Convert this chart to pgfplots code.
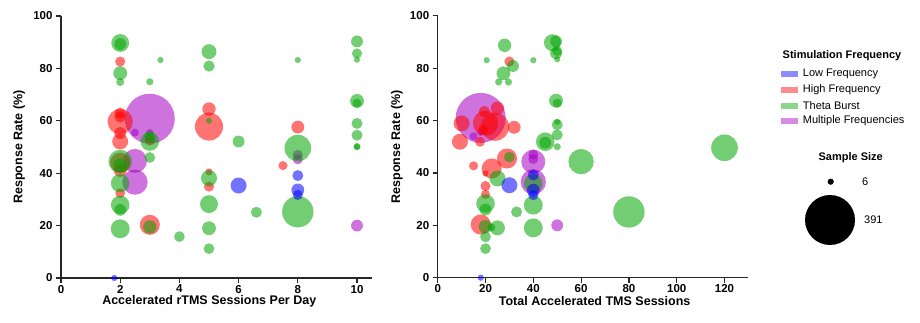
\documentclass[border=0pt]{standalone}
\usepackage{fontspec}
\setmainfont{Liberation Sans}
\usepackage{pgfplots}
\usepackage{pgfplotstable}
\pgfplotsset{compat=1.18}

\definecolor{cLow}{RGB}{0,0,255}
\definecolor{cHigh}{RGB}{255,0,0}
\definecolor{cTheta}{RGB}{0,165,0}
\definecolor{cMulti}{RGB}{165,0,195}

% ---------- Left panel: sessions per day ----------
\pgfplotstableread{
x y n
1.8 0 6
6 35.3 40
8 39.1 19
8 33.6 26
8 31.7 16
}\LLow
\pgfplotstableread{
x y n
2 82.6 16
2 62.9 20
2 61.5 20
2 59.7 100
2 55.3 22
2 52.1 40
2 44 63
2 41 25
2 32.4 15
3 52.5 16
3 20.3 63
5 64.5 28
5 57.8 123
5 40.5 8
5 34.9 16
7.5 42.9 13
8 57.6 26
}\LHigh
\pgfplotstableread{
x y n
2 89.7 50
2 89.3 22
2 78.2 30
2 74.8 10
3.36 83.2 6
3 74.9 8
5 86.4 35
5 80.9 20
3 52.1 54
3 54 20
3 46 18
2 44.5 86
2 43 30
2 36.2 54
2 27.9 54
2 26 22
2 18.8 56
3 19.5 28
4 15.8 18
5 60 6
5 38.1 40
5 28.2 50
5 19 30
5 11.2 18
6 52.1 22
6.6 25.1 19
8 83.2 6
8 49.6 111
8 25.3 154
10 90.3 22
10 85.7 16
10 83.3 6
10 67.6 30
10 66.7 13
10 59 19
10 54.5 19
10 50.2 8
10 50 6
}\LTheta
\pgfplotstableread{
x y n
3 60.8 391
2.5 55.5 10
3 55.5 8
2.5 44.7 90
2.5 36.6 100
8 47 16
8 45.3 16
10 20 22
}\LMulti

% ---------- Right panel: total sessions ----------
\pgfplotstableread{
x y n
18 0 6
30 35.3 40
40 39.2 19
40 33.4 26
40 31.5 16
}\RLow
\pgfplotstableread{
x y n
30 82.5 16
25 64.7 28
19.5 63.4 20
20 59 100
24 57.6 123
10 58.9 40
32 57.4 26
9.3 51.9 40
17.7 51.9 16
19 56.5 16
15 42.7 13
29 45.5 63
22.6 41.7 63
20 39.8 6
20 35 16
20 31.8 13
18 20.3 63
}\RHigh
\pgfplotstableread{
x y n
48 89.7 45
49.5 90.2 22
28 88.7 28
20.5 83 6
40 83 6
31.5 80.8 22
27.5 78 30
25.5 74.7 8
29.6 74.7 8
49.5 85.7 22
50 86.5 16
50 83.4 6
49.5 67.6 30
50 66.6 13
50 59.5 6
50 58.4 19
50 54.5 19
45 51.9 54
45 51.5 22
50 50 8
30 46 18
60 44.3 100
25 37.9 40
40 36 54
20 28.3 54
40 27.7 56
20 26 22
33 25.1 19
20 19.5 28
25 19 35
22.5 19.2 10
40 19 56
20 15.6 18
20 11.1 18
80 25.1 154
120 49.6 111
}\RTheta
\pgfplotstableread{
x y n
18 61 391
15 54 10
18 55.5 8
40 44.3 90
40 47 16
40 45.3 16
40 36.6 100
50 20 22
}\RMulti

% ---------- Size legend ----------
\pgfplotstableread{
x y n
50.7 80.3 6
50 42 391
}\SizeLeg

\pgfplotsset{
  bubble/.style={
    scatter, only marks, mark=*,
    draw opacity=0,
    mark options={draw opacity=0},
    scatter/use mapped color={draw opacity=0, fill=#1, fill opacity=0.55},
    visualization depends on={1.264*sqrt(\thisrow{n}) \as \rad},
    scatter/@pre marker code/.append style={/tikz/mark size=\rad},
  },
  bubax/.style={
    scale only axis, height=262pt, ymin=0, ymax=100,
    axis lines=left,
    axis line style={-, line width=1.5pt, black!85},
    ytick={0,20,...,100},
    tick align=outside, major tick length=5pt,
    tick style={line width=1.2pt, black!85},
    ticklabel style={font=\fontsize{11.5}{13}\selectfont\bfseries},
    xticklabel style={yshift=1.5pt},
    label style={font=\fontsize{12.5}{15}\selectfont\bfseries},
    /pgf/number format/assume math mode=true,
    ylabel={Response Rate (\%)},
    ylabel style={at={(axis description cs:-0.135,0.5)}, anchor=center},
  },
}

\begin{document}
\begin{tikzpicture}[x=1pt,y=1pt]
\useasboundingbox (0,0) rectangle (920,322);

\begin{axis}[bubax, at={(61pt,44pt)}, anchor=south west,
  width=310.8pt, xmin=0, xmax=10.5, xtick={0,2,...,10},
  xlabel style={at={(axis description cs:0.477,-0.088)}, anchor=center},
  xlabel={Accelerated rTMS Sessions Per Day}]
  \addplot[bubble=cMulti] table {\LMulti};
  \addplot[bubble=cHigh] table {\LHigh};
  \addplot[bubble=cTheta] table {\LTheta};
  \addplot[bubble=cLow] table {\LLow};
\end{axis}

\begin{axis}[bubax, at={(437.7pt,44.3pt)}, anchor=south west,
  width=310.7pt, xmin=0, xmax=130, xtick={0,20,...,120},
  ylabel style={at={(axis description cs:-0.131,0.5)}},
  xlabel style={at={(axis description cs:0.505,-0.088)}, anchor=center},
  xlabel={Total Accelerated TMS Sessions}]
  \addplot[bubble=cMulti] table {\RMulti};
  \addplot[bubble=cHigh] table {\RHigh};
  \addplot[bubble=cTheta] table {\RTheta};
  \addplot[bubble=cLow] table {\RLow};
\end{axis}

% colour legend
\node[anchor=west, font=\fontsize{11}{13}\selectfont\bfseries, inner sep=0pt] at (782.5,266) {Stimulation Frequency};
\foreach \c/\t/\yy in {cLow/Low Frequency/247.7, cHigh/High Frequency/232, cTheta/Theta Burst/216.3, cMulti/Multiple Frequencies/201}{
  \fill[\c, fill opacity=0.45] (780.7,\yy-3) rectangle (798.3,\yy+3);
  \node[anchor=west, font=\fontsize{11}{13}\selectfont, inner sep=0pt] at (802.7,\yy) {\t};
}

% size legend
\node[font=\fontsize{11}{13}\selectfont\bfseries, inner sep=0pt] at (850.7,164.7) {Sample Size};
\begin{axis}[at={(780pt,60pt)}, anchor=south west, scale only axis,
  width=100pt, height=100pt, xmin=0, xmax=100, ymin=0, ymax=100,
  hide axis, clip=false]
  \addplot[scatter, only marks, mark=*, draw opacity=0, mark options={draw opacity=0},
    scatter/use mapped color={draw opacity=0, fill=black},
    visualization depends on={1.264*sqrt(\thisrow{n}) \as \rad},
    scatter/@pre marker code/.append style={/tikz/mark size=\rad}] table {\SizeLeg};
\end{axis}
\node[anchor=west, font=\fontsize{11}{13}\selectfont, inner sep=0pt] at (862,140.3) {6};
\node[anchor=west, font=\fontsize{11}{13}\selectfont, inner sep=0pt] at (864,102) {391};

\end{tikzpicture}
\end{document}
